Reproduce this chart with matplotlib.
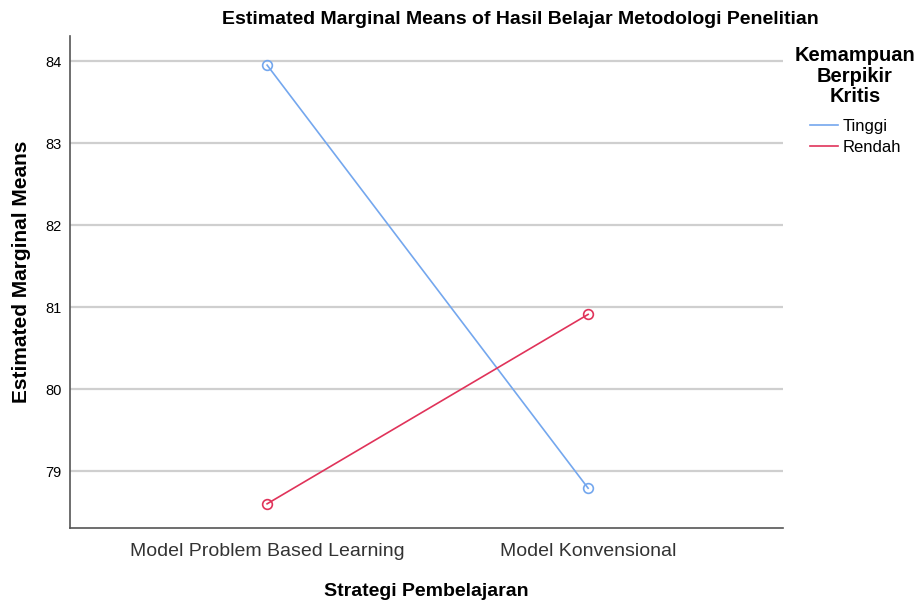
import matplotlib
matplotlib.use("Agg")
import matplotlib.pyplot as plt
from matplotlib.lines import Line2D

plt.rcParams['font.family'] = ['Liberation Sans', 'DejaVu Sans']

categories = ["Model Problem Based Learning", "Model Konvensional"]
series_names = ["Tinggi", "Rendah"]
tinggi = [83.95, 78.79]
rendah = [78.60, 80.91]
colors = ["#74a7ee", "#e0335a"]
yticks = [79, 80, 81, 82, 83, 84]

fig = plt.figure(figsize=(9.18, 6.03), dpi=100)
ax = fig.add_axes([70/918, 1-528/603, 713/918, (528-36)/603])

x = list(range(len(categories)))
for vals, name, c in zip([tinggi, rendah], series_names, colors):
    ax.plot(x, vals, color=c, lw=1.2, marker='o', markersize=7,
            markerfacecolor='none', markeredgecolor=c, markeredgewidth=1.2, label=name, zorder=3)

ax.set_xlim(-0.614, 1.607)
ax.set_ylim(78.305, 84.305)
ax.set_yticks(yticks)
ax.set_yticklabels([str(v) for v in yticks], fontsize=10.5)
ax.set_xticks(x)
ax.set_xticklabels(categories, fontsize=14, color='#333333')
ax.tick_params(axis='both', length=0)
ax.tick_params(axis='y', pad=6)
ax.tick_params(axis='x', pad=11)
ax.yaxis.grid(True, color='#cfcfcf', lw=1.6)
ax.set_axisbelow(True)
for s in ['top', 'right']:
    ax.spines[s].set_visible(False)
for s in ['left', 'bottom']:
    ax.spines[s].set_color('#555555')
    ax.spines[s].set_linewidth(1.2)

ax.set_xlabel("Strategi Pembelajaran", fontsize=14, fontweight='bold', labelpad=16)
ax.set_ylabel("Estimated Marginal Means", fontsize=15, fontweight='bold', va='center')
ax.yaxis.set_label_coords(-0.0687, 0.52)
fig.text(520/918, 1-19/603, "Estimated Marginal Means of Hasil Belajar Metodologi Penelitian",
         ha='center', va='center', fontsize=14, fontweight='bold')

fig.text(855/918, 1-76/603, "Kemampuan\nBerpikir\nKritis", ha='center', va='center',
         fontsize=14.5, fontweight='bold', linespacing=1.12)
handles = [Line2D([0], [0], color=c, lw=1.2) for c in colors]
leg = fig.legend(handles, series_names, loc='center left', bbox_to_anchor=(810/918, 1-137/603),
                 frameon=False, fontsize=12, handlelength=1.7, handletextpad=0.25,
                 labelspacing=0.4, borderpad=0, borderaxespad=0)

fig.savefig("out.png", dpi=100)
